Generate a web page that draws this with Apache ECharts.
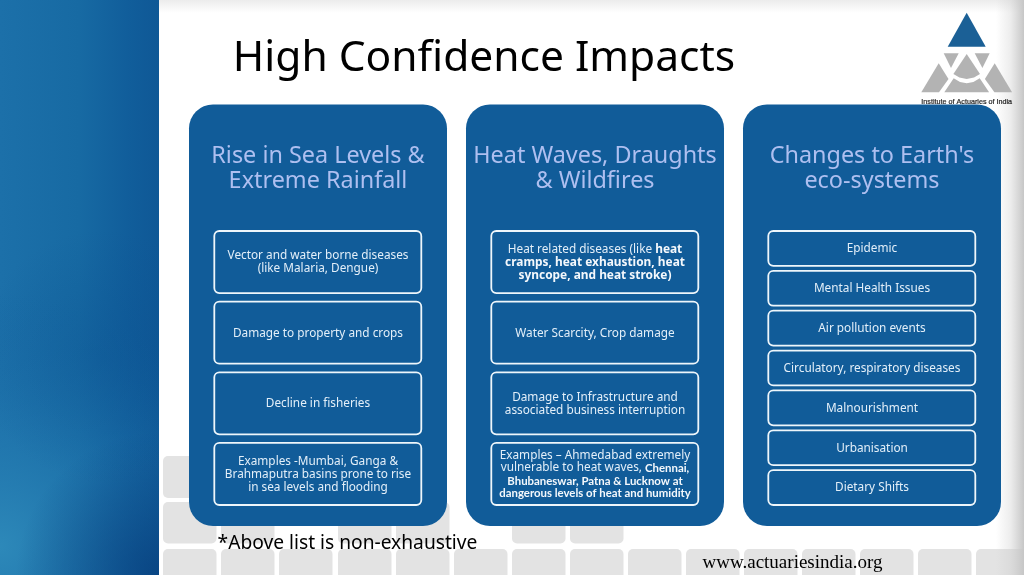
<!DOCTYPE html>
<html><head><meta charset="utf-8">
<style>html,body{margin:0;padding:0;background:#fff}#c{width:1024px;height:575px}</style>
<script src="https://cdn.jsdelivr.net/npm/echarts@6/dist/echarts.min.js"></script>
</head><body><div id="c"></div>
<script>
var slideTitle = "High Confidence Impacts";
var footnote = "*Above list is non-exhaustive";
var website = "www.actuariesindia.org";
var logoText = "Institute of Actuaries of India";
var columnTitles = ["Rise in Sea Levels &\nExtreme Rainfall", "Heat Waves, Draughts\n& Wildfires", "Changes to Earth's\neco-systems"];
var column1Items = [
  "{n|Vector and water borne diseases}\n{n|(like Malaria, Dengue)}",
  "{n|Damage to property and crops}",
  "{n|Decline in fisheries}",
  "{n|Examples -Mumbai, Ganga &}\n{n|Brahmaputra basins prone to rise}\n{n|in sea levels and flooding}"
];
var column2Items = [
  "{n|Heat related diseases (like }{b|heat}\n{b|cramps, heat exhaustion, heat}\n{b|syncope, and heat stroke)}",
  "{n|Water Scarcity, Crop damage}",
  "{n|Damage to Infrastructure and}\n{n|associated business interruption}",
  "{n|Examples \u2013 Ahmedabad extremely}\n{n|vulnerable to heat waves, }{s|Chennai,}\n{s|Bhubaneswar, Patna & Lucknow at}\n{s|dangerous levels of heat and humidity}"
];
var column3Items = ["Epidemic","Mental Health Issues","Air pollution events","Circulatory, respiratory diseases","Malnourishment","Urbanisation","Dietary Shifts"].map(function(s){return "{n|"+s+"}";});
var tileRow1 = [163];
var tileRow2 = [163,221,338,396,512,570];
var tileRow3 = [163,221,279,338,396,454,512,570,628,686,744,802,860,918,976];

var F = '"Noto Sans"';
var els = [];
function rect(x,y,w,h,r,style,z){els.push({type:'rect',shape:{x:x,y:y,width:w,height:h,r:r},style:style,z:z||1,silent:true});}
function text(x,y,t,o,z){var s=Object.assign({x:x,y:y,text:t,fontFamily:F,align:'center',verticalAlign:'middle'},o);els.push({type:'text',style:s,z:z||5,silent:true});}
var LG=echarts.graphic.LinearGradient, RG=echarts.graphic.RadialGradient;

// page edges
rect(159,0,865,13,0,{fill:new LG(0,0,0,1,[{offset:0,color:'#ececec'},{offset:1,color:'#ffffff'}])},0);
// tiles
function tiles(arr,y,h){arr.forEach(function(x){rect(x,y,53.5,h,5,{fill:'#e3e3e3'},1);});}
tiles(tileRow1,456,42);tiles(tileRow2,502,41.5);tiles(tileRow3,549,33);
rect(996,0,28,575,0,{fill:new LG(0,0,1,0,[{offset:0,color:'rgba(205,205,205,0)'},{offset:0.5,color:'rgba(205,205,205,0.35)'},{offset:1,color:'#c6c6c6'}])},3);
// left band
rect(0,0,159,575,0,{fill:new LG(0,0,1,0,[{offset:0,color:'#1c70a9'},{offset:0.5,color:'#176aa3'},{offset:0.8,color:'#115e9b'},{offset:1,color:'#0f5896'}])},2);
rect(0,0,159,575,0,{fill:new RG(0,0.95,1.6,[{offset:0,color:'rgba(46,138,186,0.95)'},{offset:0.5,color:'rgba(34,120,175,0.5)'},{offset:1,color:'rgba(20,100,160,0)'}])},2);
rect(0,0,159,575,0,{fill:new RG(1,1,0.9,[{offset:0,color:'rgba(6,62,125,0.8)'},{offset:1,color:'rgba(6,62,125,0)'}])},2);
rect(0,0,159,575,0,{fill:new RG(0.65,0.62,0.8,[{offset:0,color:'rgba(8,75,140,0.3)'},{offset:1,color:'rgba(8,75,140,0)'}])},2);

// title
text(484,59,slideTitle,{fontSize:42.5,fill:'#000'});
text(347.5,544,footnote,{fontSize:19.2,fill:'#000'});
text(792.5,563,website,{fontSize:19,fontFamily:'"Liberation Serif"',fill:'#000'});

// columns
var columns = [column1Items,column2Items,column3Items];
var colX=[189,466,743], colW=258, colTop=104.5, colH=421.5;
var rich={n:{fontFamily:F,fontSize:11.8,lineHeight:12.8,fill:'#e3eff9',fontWeight:400},
          b:{fontFamily:F,fontSize:11.9,lineHeight:12.8,fill:'#f4f8fc',fontWeight:700},
          s:{fontFamily:'Lato',fontSize:11.4,lineHeight:12.8,fill:'#f4f8fc',fontWeight:700}};
columns.forEach(function(items,i){
  var x=colX[i];
  rect(x,colTop,colW,colH,24,{fill:'#115c99'},4);
  text(x+colW/2,169,columnTitles[i],{fontSize:23.4,lineHeight:25,fill:'#aebff0'});
  var top=231, bot=505, n=items.length, gap=n===4?8.6:5, h=(bot-top-gap*(n-1))/n;
  items.forEach(function(t,j){
    var y=top+j*(h+gap);
    rect(x+25.3,y,207,h,5,{fill:'#115c99',stroke:'#eef6fb',lineWidth:1.8},5);
    text(x+129,y+h/2+0.5,t,{rich:rich,fill:'#e6f1fa'},6);
  });
});

// logo
els.push({type:'polygon',shape:{points:[[966.7,12.7],[947.7,46.7],[985.7,46.7]]},style:{fill:'#1b6096'},z:6,silent:true});
var g='#b3b3b3', cx=1933.4;
function mirror(p){return p.map(function(q){return [cx-q[0],q[1]];});}
var logoL=[[943.7,53.3],[958.7,53.3],[951,68]];
var logoLL=[[921.3,92.3],[938.7,63.3],[948.5,79],[939,92.3]];
var logoC=[[966.7,54],[980,74],[974,77.5],[966.7,79],[959.4,77.5],[953.4,74]];
var logoB=[[944.3,92.3],[953.7,78.3],[960,82],[966.7,83.3],[973.4,82],[979.7,78.3],[989.1,92.3]];
[logoL,mirror(logoL),logoLL,mirror(logoLL),logoC,logoB].forEach(function(p){
  els.push({type:'polygon',shape:{points:p},style:{fill:g},z:6,silent:true});
});
text(966.7,102,logoText,{fontSize:7.2,fontWeight:500,fill:'#222',stroke:'#222',lineWidth:0.2,fontFamily:'"Liberation Sans"'},3);

var chart=echarts.init(document.getElementById('c'),null,{renderer:'canvas'});
chart.setOption({animation:false,backgroundColor:'#ffffff',graphic:{elements:els}});
</script></body></html>
